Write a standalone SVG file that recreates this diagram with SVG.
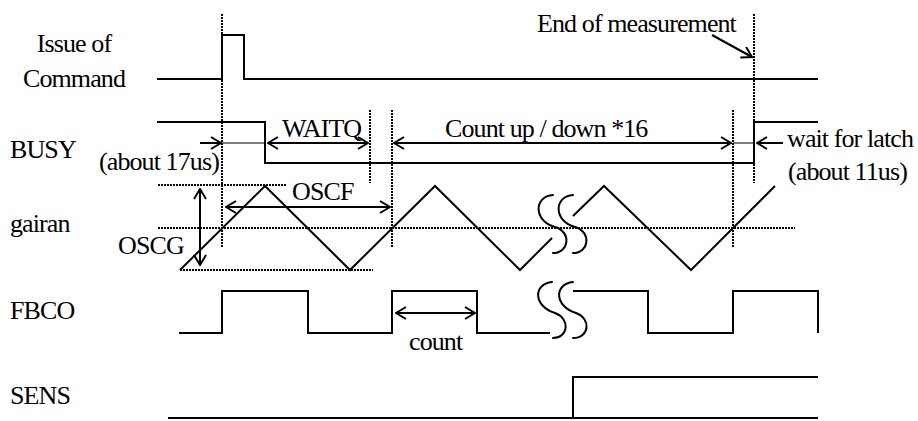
<svg xmlns="http://www.w3.org/2000/svg" width="918" height="421" viewBox="0 0 918 421">
<style>
text{font-family:"Liberation Serif","Times New Roman",serif;font-size:26px;letter-spacing:-0.9px;fill:#000}
.sig{fill:none;stroke:#000;stroke-width:2;stroke-linejoin:miter}
.dot{fill:none;stroke:#000;stroke-width:2;stroke-dasharray:2 1}
.arr{fill:none;stroke:#000;stroke-width:2}
.thin{fill:none;stroke:#000;stroke-width:1}
.brk{fill:none;stroke:#000;stroke-width:2;stroke-linecap:round}
</style>
<defs>
<marker id="ah" markerUnits="userSpaceOnUse" viewBox="0 0 12 14" markerWidth="12" markerHeight="14" refX="11" refY="7" orient="auto-start-reverse">
<path d="M1,1 L11,7 L1,13" fill="none" stroke="#000" stroke-width="2"/>
</marker>
</defs>
<rect width="918" height="421" fill="#fff"/>

<g id="guides">
<line class="dot" x1="222" y1="14" x2="222" y2="247"/>
<line class="dot" x1="754" y1="14" x2="754" y2="183"/>
<line class="dot" x1="370" y1="110" x2="370" y2="183"/>
<line class="dot" x1="392" y1="110" x2="392" y2="247"/>
<line class="dot" x1="733" y1="110" x2="733" y2="247"/>
<line class="dot" x1="158" y1="185" x2="287" y2="185"/>
<line class="dot" x1="158" y1="228" x2="795" y2="228"/>
<line class="dot" x1="180" y1="270" x2="373" y2="270"/>
</g>

<g id="command">
<text x="74" y="52" text-anchor="middle">Issue of</text>
<text x="74" y="87" text-anchor="middle">Command</text>
<polyline class="sig" points="157,79 222,79 222,35 244,35 244,79 818,79"/>
<text x="537" y="32">End of measurement</text>
</g>

<g id="busy">
<text x="10" y="158">BUSY</text>
<polyline class="sig" points="157,122 265,122 265,163 754,163 754,122 818,122"/>
<text x="99" y="170">(about 17us)</text>
<text x="282" y="137">WAITQ</text>
<text x="445" y="137">Count up / down *16</text>
<text x="787" y="147">wait for latch</text>
<text x="788" y="180">(about 11us)</text>
</g>

<g id="gairan">
<text x="10" y="232">gairan</text>
<polyline class="sig" points="180,270 265,186 350,270 435,186 520,270 552,238"/>
<polyline class="sig" points="573,216 604,186 691,270 775,186"/>
<path class="brk" d="M553,195 C534,196 533,221 555,227 C572,232 569,253 553,253"/>
<path class="brk" d="M573,195 C554,196 553,221 575,227 C592,232 589,253 573,253"/>
<text x="292" y="200">OSCF</text>
<text x="118" y="254">OSCG</text>
</g>

<g id="fbco">
<text x="10" y="319">FBCO</text>
<polyline class="sig" points="179,333 222,333 222,291 308,291 308,333 392,333 392,291 477,291 477,333 550,333"/>
<polyline class="sig" points="573,291 648,291 648,333 733,333 733,291 818,291 818,333"/>
<path class="brk" d="M552,282 C533,284 533,306 555,313 C571,319 568,338 553,338"/>
<path class="brk" d="M573,282 C554,284 554,306 576,313 C592,319 589,338 573,338"/>
<text x="409" y="350">count</text>
</g>

<g id="sens">
<text x="10" y="404">SENS</text>
<polyline class="sig" points="168,418 818,418"/>
<polyline class="sig" points="573,418 573,377 818,377"/>
</g>

<g id="connectors">
<line class="arr" x1="712" y1="35" x2="752" y2="57" marker-end="url(#ah)"/>
<line class="arr" x1="200" y1="143" x2="221" y2="143" marker-end="url(#ah)"/>
<line class="thin" x1="222" y1="143" x2="265" y2="143"/>
<line class="arr" x1="268" y1="143" x2="368" y2="143" marker-start="url(#ah)" marker-end="url(#ah)"/>
<line class="arr" x1="394" y1="143" x2="731" y2="143" marker-start="url(#ah)" marker-end="url(#ah)"/>
<line class="thin" x1="733" y1="143" x2="754" y2="143"/>
<line class="arr" x1="783" y1="143" x2="757" y2="143" marker-end="url(#ah)"/>
<line class="arr" x1="226" y1="207" x2="390" y2="207" marker-start="url(#ah)" marker-end="url(#ah)"/>
<line class="arr" x1="200" y1="189" x2="200" y2="265" marker-start="url(#ah)" marker-end="url(#ah)"/>
<line class="arr" x1="396" y1="313" x2="475" y2="313" marker-start="url(#ah)" marker-end="url(#ah)"/>
</g>
</svg>
